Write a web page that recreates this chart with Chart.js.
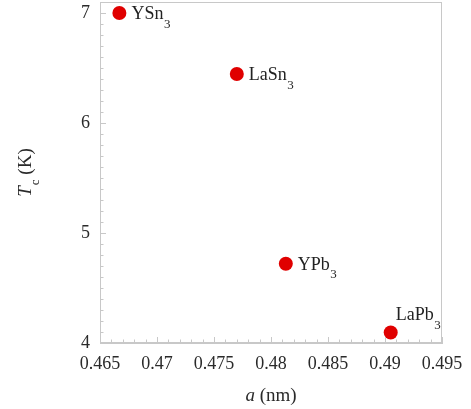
<!DOCTYPE html>
<html><head><meta charset="utf-8">
<script src="https://cdn.jsdelivr.net/npm/chart.js@4/dist/chart.umd.min.js"></script>
<style>html,body{margin:0;padding:0;background:#fff}#wrap{width:471px;height:409px}</style>
</head><body><div id="wrap"><canvas id="c" width="471" height="409"></canvas></div>
<script>
// ---- data ----
const compounds = ['YSn', 'LaSn', 'YPb', 'LaPb'];
const subscripts = ['3', '3', '3', '3'];
const latticeA = [0.4667, 0.4770, 0.4813, 0.4905];
const tcValues = [7.00, 6.445, 4.72, 4.095];
const xTickValues = [0.465, 0.47, 0.475, 0.48, 0.485, 0.49, 0.495];
const yTickValues = [4, 5, 6, 7];
const xMinorStep = 0.001;
const yMinorStep = 0.1;

// ---- style ----
const SERIF = '"Liberation Serif", "Times New Roman", serif';
const AXIS_COL = '#c8c8c8';
const TEXT_COL = '#2a2a2a';
const labelPlacement = ['right', 'right', 'right', 'above'];

const overlay = {
  id: 'overlay',
  afterDraw(chart) {
    const ctx = chart.ctx, a = chart.chartArea;
    const xs = chart.scales.x, ys = chart.scales.y;
    ctx.save();
    ctx.strokeStyle = AXIS_COL; ctx.lineWidth = 1;
    ctx.strokeRect(Math.round(a.left) + 0.5, Math.round(a.top) + 0.5,
                   Math.round(a.right - a.left) - 1, Math.round(a.bottom - a.top) - 1);
    ctx.beginPath();
    const nx = Math.round((xs.max - xs.min) / xMinorStep);
    for (let i = 0; i <= nx; i++) {
      const v = xs.min + i * xMinorStep;
      const major = xTickValues.some(t => Math.abs(t - v) < 1e-7);
      const px = Math.round(xs.getPixelForValue(v)) + 0.5;
      const len = major ? 6 : 3.5;
      ctx.moveTo(px, a.bottom); ctx.lineTo(px, a.bottom - len);
    }
    const ny = Math.floor((ys.max - ys.min) / yMinorStep + 1e-6);
    for (let i = 0; i <= ny; i++) {
      const v = ys.min + i * yMinorStep;
      const major = yTickValues.some(t => Math.abs(t - v) < 1e-7);
      const py = Math.round(ys.getPixelForValue(v)) + 0.5;
      const len = major ? 6 : 3.5;
      ctx.moveTo(a.left, py); ctx.lineTo(a.left + len, py);
    }
    ctx.stroke();

    ctx.fillStyle = '#222';
    ctx.textBaseline = 'alphabetic';
    ctx.textAlign = 'left';
    const meta = chart.getDatasetMeta(0);
    meta.data.forEach((pt, i) => {
      let x, y;
      if (labelPlacement[i] === 'above') { x = pt.x + 5; y = pt.y - 12.5; }
      else { x = pt.x + 12; y = pt.y + 6; }
      ctx.font = '18px ' + SERIF;
      ctx.fillText(compounds[i], x, y);
      const w = ctx.measureText(compounds[i]).width;
      ctx.font = '13px ' + SERIF;
      ctx.fillText(subscripts[i], x + w + 0.5, y + 8.5);
    });

    const cx = (a.left + a.right) / 2;
    ctx.fillStyle = TEXT_COL;
    ctx.font = 'italic 19px ' + SERIF;
    const wa = ctx.measureText('a').width;
    ctx.font = '19px ' + SERIF;
    const wr = ctx.measureText(' (nm)').width;
    const sx = cx - (wa + wr) / 2;
    const by = 401;
    ctx.font = 'italic 19px ' + SERIF; ctx.fillText('a', sx, by);
    ctx.font = '19px ' + SERIF; ctx.fillText(' (nm)', sx + wa, by);

    ctx.save();
    ctx.translate(31, (a.top + a.bottom) / 2);
    ctx.rotate(-Math.PI / 2);
    ctx.font = 'italic 19px ' + SERIF;
    const wT = ctx.measureText('T').width;
    ctx.font = '13px ' + SERIF;
    const wc = ctx.measureText('c').width;
    ctx.font = '19px ' + SERIF;
    const wK = ctx.measureText(' (K)').width;
    const tx = -(wT + wc + wK + 1) / 2;
    ctx.font = 'italic 19px ' + SERIF; ctx.fillText('T', tx, 0);
    ctx.font = '13px ' + SERIF; ctx.fillText('c', tx + wT + 1, 8);
    ctx.font = '19px ' + SERIF; ctx.fillText(' (K)', tx + wT + wc + 1, 0);
    ctx.restore();

    ctx.restore();
  }
};

new Chart(document.getElementById('c'), {
  type: 'scatter',
  data: {
    datasets: [{
      data: latticeA.map((x, i) => ({ x: x, y: tcValues[i] })),
      backgroundColor: 'rgb(224,0,0)',
      borderWidth: 0,
      pointRadius: 7,
      pointHoverRadius: 7,
      clip: false
    }]
  },
  options: {
    responsive: false,
    devicePixelRatio: 1,
    animation: false,
    layout: { autoPadding: false, padding: { left: 0, top: 2, right: 29, bottom: 0 } },
    plugins: { legend: { display: false }, tooltip: { enabled: false } },
    scales: {
      x: {
        type: 'linear', min: 0.465, max: 0.495,
        afterBuildTicks: s => { s.ticks = xTickValues.map(v => ({ value: v })); },
        afterFit: s => { s.height = 66; s.paddingLeft = 0; s.paddingRight = 0; },
        grid: { drawOnChartArea: false, drawTicks: false },
        border: { color: AXIS_COL, width: 1 },
        ticks: { color: TEXT_COL, padding: 10, maxRotation: 0,
                 font: { family: SERIF, size: 18 },
                 callback: v => String(+v.toFixed(3)) }
      },
      y: {
        type: 'linear', min: 4, max: 7.1,
        afterBuildTicks: s => { s.ticks = yTickValues.map(v => ({ value: v })); },
        afterFit: s => { s.width = 100; s.paddingTop = 0; s.paddingBottom = 0; },
        grid: { drawOnChartArea: false, drawTicks: false },
        border: { color: AXIS_COL, width: 1 },
        ticks: { color: TEXT_COL, padding: 10,
                 font: { family: SERIF, size: 18 },
                 callback: v => String(v) }
      }
    }
  },
  plugins: [overlay]
});
</script>
</body></html>
